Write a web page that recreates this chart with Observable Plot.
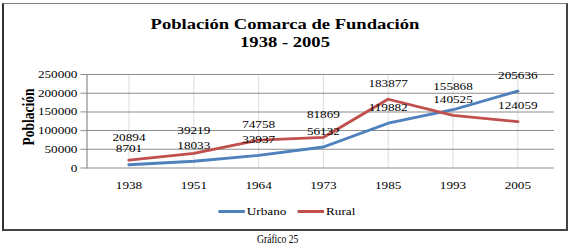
<!DOCTYPE html>
<html><head><meta charset="utf-8">
<script src="https://cdn.jsdelivr.net/npm/d3@7"></script>
<script src="https://cdn.jsdelivr.net/npm/@observablehq/plot@0.6"></script>
<style>
html,body{margin:0;padding:0;background:#fff;}
body{width:570px;height:246px;position:relative;overflow:hidden;font-family:"Liberation Serif","Times New Roman",serif;color:#000;}
#box{position:absolute;left:2px;top:3px;width:566px;height:228px;box-sizing:border-box;border-top:1px solid #808080;border-left:2px solid #333;border-right:2px solid #444;border-bottom:2px solid #444;}
#stage{position:absolute;left:0;top:0;width:475px;height:230px;transform:scaleX(1.2);transform-origin:0 0;}
#title{position:absolute;left:0;width:475px;top:15px;text-align:center;font-weight:bold;font-size:15.5px;line-height:17.5px;}
#ylab{position:absolute;left:24.2px;top:117px;font-weight:bold;font-size:13.5px;line-height:14px;white-space:nowrap;transform:translate(-50%,-50%) rotate(-90deg);}
#chart{position:absolute;left:0;top:0;}
#legend{position:absolute;left:181.7px;top:205px;display:flex;align-items:center;font-size:11px;line-height:13px;}
#legend .item{display:flex;align-items:center;margin-right:9px;}
#legend .sw{display:inline-block;width:22.5px;height:3px;margin-right:1.5px;}
#caption{position:absolute;left:257px;top:233px;font-size:12px;line-height:12px;white-space:nowrap;transform:scaleX(0.8);transform-origin:0 0;}
</style>
</head><body>
<div id="box"></div>
<div id="stage">
  <div id="chart"></div>
  <div id="title">Población Comarca de Fundación<br>1938 - 2005</div>
  <div id="ylab">Población</div>
  <div id="legend"></div>
</div>
<div id="caption">Gráfico 25</div>
<script>
const years = ["1938","1951","1964","1973","1985","1993","2005"];
const urbano = [8701,18033,33937,56132,119882,155868,205636];
const rural = [20894,39219,74758,81869,183877,140525,124059];
const yTicks = [0,50000,100000,150000,200000,250000];
const seriesNames = ["Urbano","Rural"];
const seriesColors = ["#4F81BD","#C0504D"];

const rows = years.flatMap((yr,i)=>[
  {year:yr, series:"Urbano", value:urbano[i], other:rural[i]},
  {year:yr, series:"Rural", value:rural[i], other:urbano[i]}
]);
rows.forEach(d=>{ d.crowded = d.value > d.other && d.value - d.other < 35000; });

const chart = Plot.plot({
  width:475, height:200,
  marginLeft:72, marginRight:13.3, marginTop:74, marginBottom:32.5,
  x:{type:"point", domain:years, padding:0.5, insetLeft:5},
  y:{domain:[0,250000]},
  color:{domain:seriesNames, range:seriesColors},
  style:{fontFamily:"'Liberation Serif','Times New Roman',serif", fontSize:"11px", color:"#000", background:"transparent", overflow:"visible"},
  marks:[
    Plot.ruleX(years,{x:d=>d, y1:0, y2:250000, stroke:"#e2e2e2"}),
    Plot.ruleY(yTicks,{stroke:"#8c8c8c"}),
    Plot.frame({anchor:"left", stroke:"#8c8c8c"}),
    Plot.axisY({ticks:yTicks, tickSize:5, tickPadding:3, stroke:"#8c8c8c", fill:"#000", label:null, tickFormat:d=>String(d)}),
    Plot.axisX({tickSize:0, tickPadding:13, label:null, fill:"#000"}),
    Plot.line(rows,{x:"year", y:"value", z:"series", stroke:"series", strokeWidth:2.8}),
    Plot.text(rows.filter(d=>!d.crowded),{x:"year", y:"value", text:d=>String(d.value), dy:-16, fill:"#000"}),
    Plot.text(rows.filter(d=>d.crowded),{x:"year", y:"value", text:d=>String(d.value), dy:-23, fill:"#000"})
  ]
});
document.getElementById("chart").appendChild(chart);

const legend = document.getElementById("legend");
seriesNames.forEach((name,i)=>{
  const item = document.createElement("span");
  item.className = "item";
  const sw = document.createElement("span");
  sw.className = "sw";
  sw.style.background = seriesColors[i];
  item.appendChild(sw);
  item.appendChild(document.createTextNode(name));
  legend.appendChild(item);
});
</script>
</body></html>
